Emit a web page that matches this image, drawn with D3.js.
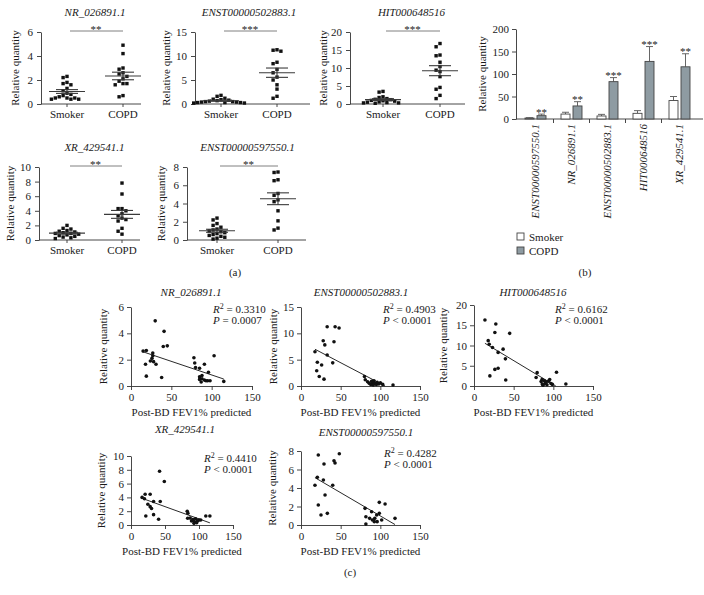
<!DOCTYPE html>
<html><head><meta charset="utf-8">
<script src="https://cdn.jsdelivr.net/npm/d3@7"></script>
<style>
body{margin:0;background:#fff}
svg{display:block}
text{font-family:"Liberation Serif","DejaVu Serif",serif;fill:#1a1a1a}
</style>
</head><body><script>
// ---------------- DATA ----------------
// Panel (a): dot plots
const aTitles = ["NR_026891.1","ENST00000502883.1","HIT000648516","XR_429541.1","ENST00000597550.1"];
const aGroups = ["Smoker","COPD"];
const aYMax = [6,15,20,10,8];
const aYTicks = [[0,2,4,6],[0,5,10,15],[0,5,10,15,20],[0,2,4,6,8,10],[0,2,4,6,8]];
const aStars = ["**","***","***","**","**"];
const aSmoker = [
  [2.3,2.2,1.8,1.7,1.6,1.3,1.1,0.9,0.8,0.7,0.6,0.5,0.5,0.5,0.4,0.4,0.4],
  [1.8,1.6,1.2,1.0,0.9,0.8,0.7,0.6,0.5,0.5,0.4,0.4,0.3,0.3,0.3,0.2,0.2],
  [3.5,3.3,2.0,1.8,1.5,1.3,1.2,1.0,0.9,0.8,0.6,0.5,0.4,0.3,0.3,0.2],
  [2.0,1.6,1.5,1.3,1.2,1.1,1.0,0.9,0.9,0.8,0.7,0.6,0.5,0.4,0.3,0.2],
  [2.4,2.2,1.8,1.6,1.4,1.2,1.1,1.0,0.9,0.8,0.7,0.6,0.5,0.4,0.3,0.2,0.1]
];
const aCOPD = [
  [4.9,4.2,3.0,2.9,2.6,2.5,2.3,2.1,1.9,1.7,1.7,1.6,0.7,0.6],
  [11.3,11.2,11.0,8.7,8.4,7.2,6.5,5.6,5.0,4.0,3.1,1.6,1.2],
  [16.8,15.9,13.6,13.4,11.6,10.4,9.4,9.0,7.6,4.6,4.1,2.4,1.5],
  [7.8,6.3,4.3,4.3,4.0,3.6,3.3,3.0,2.8,2.6,1.6,1.2,0.8],
  [7.45,7.4,6.6,6.5,5.1,4.9,4.4,4.2,3.2,2.1,1.3,1.1]
];

// Panel (b): bar chart
const bGenes = ["ENST00000597550.1","NR_026891.1","ENST00000502883.1","HIT000648516","XR_429541.1"];
const bSmoker = [2.2, 11, 6.7, 12.6, 41];
const bSmokerSem = [0.6, 4, 3.6, 6, 9];
const bCOPD = [7.4, 29, 83, 128, 116];
const bCOPDSem = [3.5, 9.5, 9, 33, 29];
const bStars = ["**","**","***","***","**"];
const bYTicks = [0,50,100,150,200];

// Panel (c): correlations with Post-BD FEV1% predicted
const cTitles = aTitles.slice();
const cYMax = [6,15,20,10,8];
const cYTicks = [[0,2,4,6],[0,5,10,15],[0,5,10,15,20],[0,2,4,6,8,10],[0,2,4,6,8]];
const cXTicks = [0,50,100,150];
const cR2 = ["0.3310","0.4903","0.6162","0.4410","0.4282"];
const cP = ["= 0.0007","< 0.0001","< 0.0001","< 0.0001","< 0.0001"];
const cFEV = [
  [15,19,18,19,24,27,26,28,31,30,38,41,40,45,27, 78,79,80,85,85,85,88,91,91,93,95,98,96,103,115,88,87],
  [17.6,20.6,19.8,23,26,29,28,30,33,33,40,41.6,43,48, 80,81,84,86,88,89,90,91,92,93,95,96,98,100,103,116],
  [13.8,27.5,26.3,45,17.9,19.2,23.3,36.7,30.4,39.6,30.4,26.3,20,40, 79.6,78.3,84.6,86,88.8,89.6,92,94,95.4,97,98.8,104,115.8,91,85.8,87],
  [16.3,19.8,20.8,28.2,24.8,28.2,30.2,33.2,43,42,49,21.8,33.2,40.6, 82.7,83.7,83.3,87,89,91,93,96.6,98,100,102.5,110,116,92.6,95],
  [21.8,48.3,29,41.6,42.9,20.6,28.2,17.6,40,30.3,21.8,25.2,33.2, 80.7,89,81.8,86.5,93,95.4,98.7,98.7,106,92.4,96,101.7,81.8,118.5,90]
];
const cQty = [
  [2.65,2.7,1.65,0.75,1.9,2.5,2.1,1.85,1.65,4.95,0.65,4.15,3.0,3.05,2.3, 2.15,1.75,1.4,1.35,0.7,0.5,0.55,1.65,0.45,0.4,0.4,0.4,1.05,2.3,0.35,0.8,0.3],
  [6.5,4.5,2.9,1.8,4.0,1.3,8.6,7.8,11.25,5.9,4.4,8.4,11.25,11.0, 1.8,1.2,0.8,0.5,0.3,0.9,0.6,0.2,1.0,0.5,0.3,0.7,0.4,0.6,0.3,0.2],
  [16.3,15.3,13.2,13.0,11.2,10.3,9.5,9.1,8.3,6.7,4.4,4.1,2.5,1.5, 3.3,2.1,1.1,0.5,1.3,0.6,0.3,1.2,1.6,0.6,0.4,3.4,0.5,1.0,1.6,0.2],
  [4.0,3.8,4.45,4.45,3.0,2.66,2.4,3.4,3.4,7.8,6.3,1.3,1.5,0.83, 2.0,1.7,0.97,1.0,0.58,0.8,0.5,0.34,0.6,0.72,0.72,1.3,1.3,0.24,0.9],
  [7.57,7.7,6.6,6.95,6.7,5.15,4.86,4.3,4.3,3.24,2.16,1.08,1.26, 1.8,1.44,0.9,0.72,0.72,1.08,1.26,2.45,2.27,0.36,0.36,0.54,0.1,0.72,0.54]
];

// ---------------- LAYOUT ----------------
const W = 704, H = 595;
const FS = 11;
const AX = "#333";
const FONT = '"Liberation Serif","DejaVu Serif",serif';
const fmt = d3.format("d");
const svg = d3.select("body").append("svg").attr("width", W).attr("height", H)
  .attr("font-family", FONT);

function styleAxis(sel){
  sel.attr("font-family", FONT);
  sel.select(".domain").attr("stroke", AX).attr("stroke-width", 0.9);
  sel.selectAll(".tick line").attr("stroke", AX).attr("stroke-width", 0.9);
  sel.selectAll(".tick text").attr("font-size", FS).attr("fill", "#1a1a1a").attr("font-family", FONT);
}

// ----- Panel (a)
const aLayout = [
  {x0:41,  top:32,  bot:104, s:26, c:82, end:100, lab:22},
  {x0:195, top:32,  bot:104, s:26, c:82, end:115, lab:25},
  {x0:350, top:32,  bot:104, s:33, c:90, end:115, lab:23},
  {x0:39,  top:167, bot:240, s:28, c:83, end:101, lab:25},
  {x0:187, top:167, bot:240, s:30, c:91, end:119, lab:22}
];

function swarm(vals, y, cx, step){
  const placed = [];
  vals.forEach(v => {
    const py = y(v);
    for (let k = 0; k < 200; k++){
      const off = k === 0 ? 0 : (k % 2 ? -1 : 1) * Math.ceil(k/2) * step;
      const px = cx + off;
      if (!placed.some(p => Math.abs(p.x - px) < step - 0.1 && Math.abs(p.y - py) < step)) {
        placed.push({x:px, y:py, v}); break;
      }
    }
  });
  return placed;
}

aTitles.forEach((title, i) => {
  const L = aLayout[i];
  const g = svg.append("g");
  const y = d3.scaleLinear().domain([0, aYMax[i]]).range([L.bot, L.top]);
  const x = d3.scalePoint().domain(aGroups).range([L.x0 + L.s, L.x0 + L.c]);

  g.append("g").attr("transform", `translate(${L.x0},0)`)
    .call(d3.axisLeft(y).tickValues(aYTicks[i]).tickFormat(fmt).tickSize(4).tickSizeOuter(0).tickPadding(4))
    .call(styleAxis);
  g.append("line").attr("x1", L.x0).attr("x2", L.x0 + L.end).attr("y1", L.bot).attr("y2", L.bot)
    .attr("stroke", AX).attr("stroke-width", 0.9);
  aGroups.forEach(grp => {
    g.append("line").attr("x1", x(grp)).attr("x2", x(grp)).attr("y1", L.bot).attr("y2", L.bot + 3)
      .attr("stroke", AX).attr("stroke-width", 0.9);
    g.append("text").attr("x", x(grp)).attr("y", L.bot + 14).attr("text-anchor", "middle")
      .attr("font-size", FS).text(grp);
  });
  g.append("text").attr("transform", `translate(${L.x0 - L.lab},${(L.top + L.bot)/2}) rotate(-90)`)
    .attr("text-anchor", "middle").attr("font-size", FS).text("Relative quantity");
  g.append("text").attr("x", (x("Smoker") + x("COPD"))/2).attr("y", L.top - 16)
    .attr("text-anchor", "middle").attr("font-size", FS).attr("font-style", "italic").text(title);
  const sy = L.top - 1;
  g.append("line").attr("x1", x("Smoker") + 3).attr("x2", x("COPD")).attr("y1", sy).attr("y2", sy)
    .attr("stroke", "#808080").attr("stroke-width", 1);
  g.append("text").attr("x", (x("Smoker") + x("COPD"))/2 + 1).attr("y", sy + 1.5)
    .attr("text-anchor", "middle").attr("font-size", FS).attr("fill", "#555").text(aStars[i]);

  [[aSmoker[i], "Smoker"], [aCOPD[i], "COPD"]].forEach(([vals, grp]) => {
    const cx = x(grp);
    const pts = swarm(vals, y, cx, 3.9);
    g.selectAll(null).data(pts).enter().append("rect")
      .attr("x", d => d.x - 1.7).attr("y", d => d.y - 1.7).attr("width", 3.4).attr("height", 3.4)
      .attr("fill", "#111");
    const m = d3.mean(vals), sem = d3.deviation(vals) / Math.sqrt(vals.length);
    const lc = "#3a3a3a";
    g.append("line").attr("x1", cx - 18).attr("x2", cx + 18).attr("y1", y(m)).attr("y2", y(m))
      .attr("stroke", lc).attr("stroke-width", 1.1);
    [m - sem, m + sem].forEach(v => g.append("line").attr("x1", cx - 11).attr("x2", cx + 11)
      .attr("y1", y(v)).attr("y2", y(v)).attr("stroke", lc).attr("stroke-width", 1.1));
    g.append("line").attr("x1", cx).attr("x2", cx).attr("y1", y(m - sem)).attr("y2", y(m + sem))
      .attr("stroke", lc).attr("stroke-width", 1.1);
  });
});
svg.append("text").attr("x", 235).attr("y", 276).attr("text-anchor", "middle").attr("font-size", FS).text("(a)");

// ----- Panel (b)
{
  const g = svg.append("g");
  const x0 = 516, top = 29, bot = 119;
  const y = d3.scaleLinear().domain([0, 200]).range([bot, top]);
  const x = d3.scaleBand().domain(bGenes).range([517.5, 697.5]);
  const bw = 9, gap = 1.5;
  g.append("g").attr("transform", `translate(${x0},0)`)
    .call(d3.axisLeft(y).tickValues(bYTicks).tickFormat(fmt).tickSize(4).tickSizeOuter(0).tickPadding(3))
    .call(styleAxis);
  g.append("line").attr("x1", x0).attr("x2", 703).attr("y1", bot).attr("y2", bot)
    .attr("stroke", AX).attr("stroke-width", 0.9);
  bGenes.slice(1).forEach(gn => g.append("line").attr("x1", x(gn)).attr("x2", x(gn))
    .attr("y1", bot).attr("y2", bot + 4).attr("stroke", AX).attr("stroke-width", 0.9));
  g.append("text").attr("transform", `translate(486,${(top + bot)/2}) rotate(-90)`)
    .attr("text-anchor", "middle").attr("font-size", FS).text("Relative quantity");

  bGenes.forEach((gn, i) => {
    const c = x(gn) + x.bandwidth()/2;
    const series = [
      {v:bSmoker[i], s:bSmokerSem[i], x:c - gap - bw, fill:"#fff"},
      {v:bCOPD[i], s:bCOPDSem[i], x:c + gap, fill:"#8e9ba2"}
    ];
    series.forEach(d => {
      const mx = d.x + bw/2;
      g.append("line").attr("x1", mx).attr("x2", mx).attr("y1", y(d.v)).attr("y2", y(d.v + d.s))
        .attr("stroke", "#666").attr("stroke-width", 1);
      g.append("line").attr("x1", mx - 3.5).attr("x2", mx + 3.5).attr("y1", y(d.v + d.s)).attr("y2", y(d.v + d.s))
        .attr("stroke", "#666").attr("stroke-width", 1);
      g.append("rect").attr("x", d.x).attr("y", y(d.v)).attr("width", bw).attr("height", bot - y(d.v))
        .attr("fill", d.fill).attr("stroke", "#444").attr("stroke-width", 0.9);
    });
    g.append("text").attr("x", c + gap + bw/2).attr("y", y(bCOPD[i] + bCOPDSem[i]) + 1.5)
      .attr("text-anchor", "middle").attr("font-size", FS).attr("fill", "#555").text(bStars[i]);
    g.append("text").attr("transform", `translate(${c},124) rotate(-90)`)
      .attr("text-anchor", "end").attr("dy", "0.35em").attr("font-size", FS)
      .attr("font-style", "italic").text(gn);
  });
  [["Smoker", "#fff", 233], ["COPD", "#8e9ba2", 247]].forEach(([lab, fill, ly]) => {
    g.append("rect").attr("x", 517).attr("y", ly).attr("width", 7).attr("height", 7)
      .attr("fill", fill).attr("stroke", "#444").attr("stroke-width", 0.9);
    g.append("text").attr("x", 529).attr("y", ly + 7.5).attr("font-size", FS).text(lab);
  });
  svg.append("text").attr("x", 585).attr("y", 276).attr("text-anchor", "middle").attr("font-size", FS).text("(b)");
}

// ----- Panel (c)
const cLayout = [
  {x0:131, x1:252, top:307, bot:386, tx:191, ty:296, lab:24, rx:213, ry:313},
  {x0:301, x1:420, top:307, bot:386, tx:361, ty:296, lab:24, rx:383, ry:313},
  {x0:474, x1:593, top:305, bot:386, tx:533, ty:296, lab:27, rx:555, ry:313},
  {x0:131, x1:233, top:456, bot:525, tx:185, ty:433, lab:26, rx:204, ry:462},
  {x0:301, x1:420, top:451, bot:525, tx:366, ty:436, lab:25, rx:384, ry:457}
];

cTitles.forEach((title, i) => {
  const L = cLayout[i];
  const g = svg.append("g");
  const x = d3.scaleLinear().domain([0, 150]).range([L.x0, L.x1]);
  const y = d3.scaleLinear().domain([0, cYMax[i]]).range([L.bot, L.top]);

  g.append("g").attr("transform", `translate(0,${L.bot})`)
    .call(d3.axisBottom(x).tickValues(cXTicks).tickFormat(fmt).tickSize(4).tickSizeOuter(0).tickPadding(3))
    .call(styleAxis);
  g.append("g").attr("transform", `translate(${L.x0},0)`)
    .call(d3.axisLeft(y).tickValues(cYTicks[i]).tickFormat(fmt).tickSize(4).tickSizeOuter(0).tickPadding(3))
    .call(styleAxis);

  g.append("text").attr("x", L.tx).attr("y", L.ty).attr("text-anchor", "middle")
    .attr("font-size", FS).attr("font-style", "italic").text(title);
  g.append("text").attr("transform", `translate(${L.x0 - L.lab},${(L.top + L.bot)/2}) rotate(-90)`)
    .attr("text-anchor", "middle").attr("font-size", FS).text("Relative quantity");
  g.append("text").attr("x", (L.x0 + L.x1)/2).attr("y", L.bot + 30).attr("text-anchor", "middle")
    .attr("font-size", FS).text("Post-BD FEV1% predicted");

  const xs = cFEV[i], ys = cQty[i];
  const mx = d3.mean(xs), my = d3.mean(ys);
  const b = d3.sum(xs.map((v, j) => (v - mx) * (ys[j] - my))) / d3.sum(xs.map(v => (v - mx) ** 2));
  const a = my - b * mx;
  const xmin = d3.min(xs);
  let xmax = d3.max(xs);
  if (a + b * xmax < 0) xmax = -a / b;
  g.append("line").attr("x1", x(xmin)).attr("x2", x(xmax))
    .attr("y1", y(a + b * xmin)).attr("y2", y(a + b * xmax))
    .attr("stroke", "#111").attr("stroke-width", 0.9);

  g.selectAll(null).data(xs.map((v, j) => [v, ys[j]])).enter().append("circle")
    .attr("cx", d => x(d[0])).attr("cy", d => y(d[1])).attr("r", 1.8).attr("fill", "#111");

  const t1 = g.append("text").attr("x", L.rx).attr("y", L.ry).attr("font-size", FS);
  t1.append("tspan").attr("font-style", "italic").text("R");
  t1.append("tspan").attr("font-size", 8).attr("dy", -4).text("2");
  t1.append("tspan").attr("dy", 4).text(" = " + cR2[i]);
  const t2 = g.append("text").attr("x", L.rx).attr("y", L.ry + 11).attr("font-size", FS);
  t2.append("tspan").attr("font-style", "italic").text("P");
  t2.append("tspan").text(" " + cP[i]);
});
svg.append("text").attr("x", 350).attr("y", 576).attr("text-anchor", "middle").attr("font-size", FS).text("(c)");
</script></body></html>
